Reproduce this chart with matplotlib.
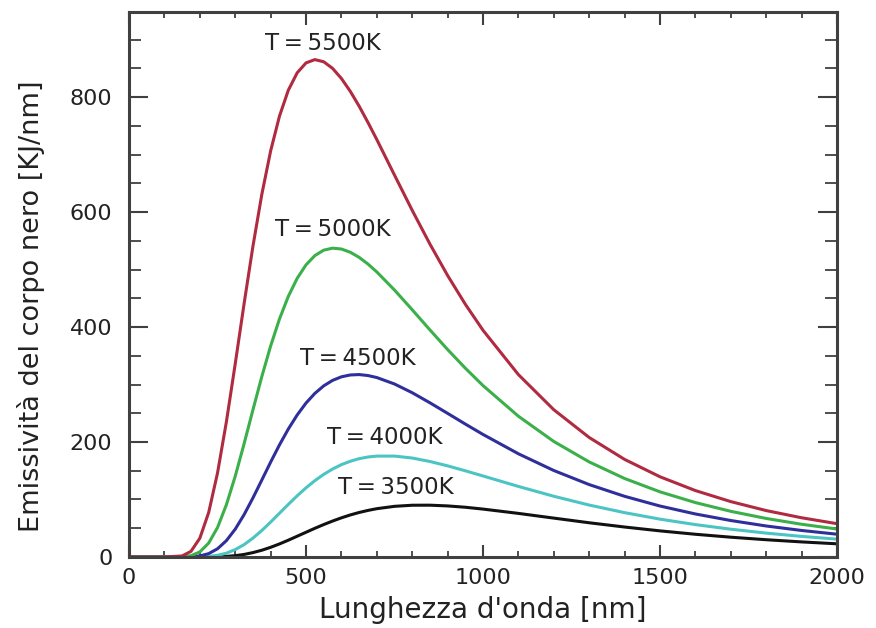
import numpy as np
import matplotlib
matplotlib.use("Agg")
import matplotlib.pyplot as plt
from matplotlib.ticker import MultipleLocator

# lunghezze d'onda [nm]
wavelength = [0, 100,
              150, 175, 200, 225, 250, 275, 300, 325, 350, 375, 400, 425, 450, 475,
              500, 525, 550, 575, 600, 625, 650, 675, 700,
              750, 800, 850, 900, 950, 1000,
              1100, 1200, 1300, 1400, 1500, 1600, 1700, 1800, 1900, 2000]

# emissivita [KJ/nm]
t5500 = [0, 0,
         1.8, 9.8, 32.6, 77.4, 146.2, 235.0, 336.0, 440.5, 540.5, 630.4, 706.3, 766.9,
         812.0, 842.2, 859.5, 865.2, 861.4, 849.9, 832.3, 810.0, 784.2, 755.8, 726.0,
         664.2, 602.9, 544.3, 489.6, 439.6, 394.3,
         317.2, 256.1, 207.8, 169.7, 139.5, 115.5, 96.3, 80.7, 68.2, 57.9]
t5000 = [0, 0,
         0.3, 2.2, 8.8, 24.2, 51.3, 90.8, 140.5, 196.9, 255.9, 313.6, 367.0, 414.0,
         453.4, 484.7, 508.2, 524.3, 533.7, 537.2, 535.7, 530.1, 521.2, 509.5, 495.8,
         464.3, 430.0, 395.0, 360.8, 328.4, 298.1,
         244.8, 200.9, 165.3, 136.5, 113.3, 94.6, 79.4, 67.0, 56.9, 48.6]
t4500 = [0, 0,
         0.0, 0.4, 1.8, 5.8, 14.3, 28.4, 48.4, 73.6, 102.7, 133.7, 165.0, 195.0,
         222.6, 247.0, 267.8, 284.6, 297.7, 307.2, 313.4, 316.6, 317.3, 315.6, 312.1,
         300.9, 285.7, 268.2, 249.8, 231.2, 213.1,
         179.5, 150.4, 125.9, 105.5, 88.6, 74.8, 63.4, 53.9, 46.1, 39.6]
t4000 = [0, 0,
         0.0, 0.0, 0.2, 1.0, 2.9, 6.6, 12.8, 21.5, 32.8, 46.0, 60.7, 76.1,
         91.5, 106.4, 120.3, 132.8, 143.7, 153.0, 160.6, 166.5, 171.0, 173.9, 175.5,
         175.5, 172.1, 166.1, 158.5, 149.9, 140.9,
         122.7, 105.6, 90.3, 77.1, 65.8, 56.3, 48.3, 41.5, 35.8, 31.0]
t3500 = [0, 0,
         0.0, 0.0, 0.0, 0.1, 0.4, 1.0, 2.3, 4.4, 7.6, 11.7, 16.8, 22.7,
         29.2, 36.1, 43.0, 49.9, 56.4, 62.5, 68.1, 73.1, 77.4, 81.0, 84.0,
         88.1, 90.0, 90.1, 88.8, 86.5, 83.3,
         75.8, 67.6, 59.5, 52.1, 45.4, 39.5, 34.4, 30.0, 26.2, 22.9]

labels = ["T\u2009=\u20093500K", "T\u2009=\u20094000K", "T\u2009=\u20094500K",
          "T\u2009=\u20095000K", "T\u2009=\u20095500K"]
label_x = [754, 722, 647, 576, 548]
label_y = [120, 207, 346, 569, 894]

series = [t3500, t4000, t4500, t5000, t5500]
colors = ["#111111", "#4cc4c4", "#2f2f9c", "#3bb04a", "#b02a40"]

plt.rcParams['font.family'] = ['DejaVu Sans']

fig = plt.figure(figsize=(8.76, 6.28), dpi=100)
ax = fig.add_axes([0.1473, 0.1131, 0.8082, 0.8678])

for s, c in zip(series, colors):
    ax.plot(wavelength, s, color=c, lw=2.2, solid_joinstyle='round')

for t, x, y in zip(labels, label_x, label_y):
    ax.text(x, y, t, fontsize=16.5, ha='center', va='center', color='#222222')

ax.set_xlim(0, 2000)
ax.set_ylim(0, 948)

ax.xaxis.set_major_locator(MultipleLocator(500))
ax.xaxis.set_minor_locator(MultipleLocator(100))
ax.yaxis.set_major_locator(MultipleLocator(200))
ax.yaxis.set_minor_locator(MultipleLocator(50))

for sp in ax.spines.values():
    sp.set_linewidth(2.2)
    sp.set_color('#404040')

ax.tick_params(axis='x', which='major', direction='in', length=9, width=1.5,
               top=True, labelsize=16, pad=8, color='#404040', labelcolor='#222222')
ax.tick_params(axis='x', which='minor', direction='in', length=4.5, width=1.3,
               top=True, color='#404040')
ax.tick_params(axis='y', which='major', direction='in', length=14, width=1.5,
               right=True, labelsize=16, pad=12, color='#404040', labelcolor='#222222')
ax.tick_params(axis='y', which='minor', direction='in', length=8.5, width=1.3,
               right=True, color='#404040')

ax.set_xlabel("Lunghezza d'onda [nm]", fontsize=20, color='#222222', labelpad=6)
ax.set_ylabel("Emissività del corpo nero [KJ/nm]", fontsize=19.5, color='#222222')
ax.yaxis.set_label_coords(-0.119, 0.46)

fig.savefig("out.png", dpi=100)
